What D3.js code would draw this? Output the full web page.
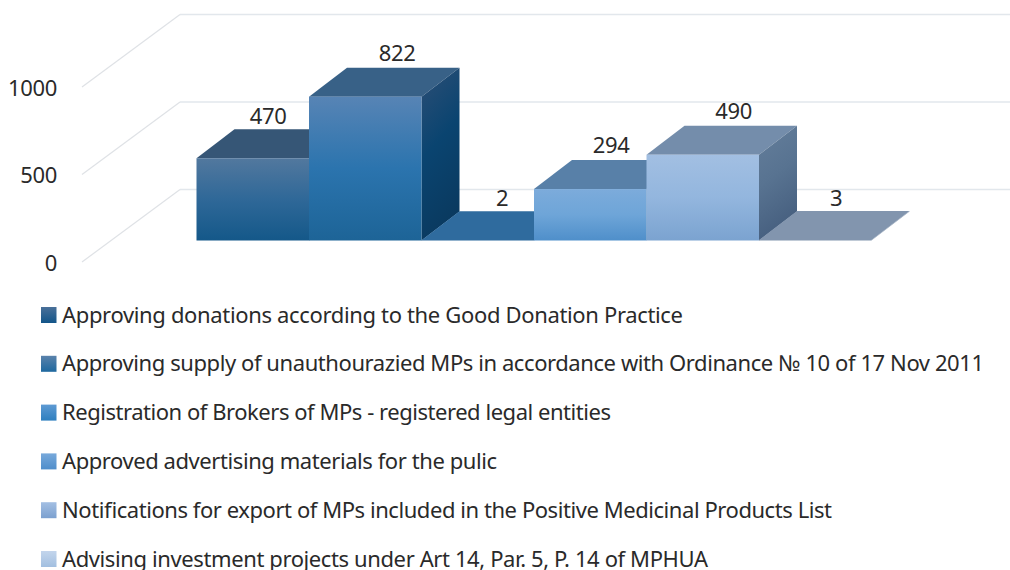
<!DOCTYPE html>
<html><head><meta charset="utf-8">
<script src="https://cdn.jsdelivr.net/npm/d3@7"></script>
<style>
html,body{margin:0;padding:0;background:#fff;overflow:hidden}
text{font-family:"Noto Sans","Open Sans",sans-serif;fill:#2a2a2a}
</style></head><body>
<svg id="c" width="1010" height="570"></svg>
<script>
const categories = [
  "Approving donations according to the Good Donation Practice",
  "Approving supply of unauthourazied MPs in accordance with Ordinance № 10 of 17 Nov 2011",
  "Registration of Brokers of MPs  - registered legal entities",
  "Approved advertising materials for the pulic",
  "Notifications for export of MPs included in the Positive Medicinal Products List",
  "Advising investment projects under Art 14, Par. 5, P. 14 of MPHUA"
];
const barOrder = [0,1,2,3,4,5];
const values = [470, 822, 2, 294, 490, 3];
const yTicks = [0, 500, 1000];
const frontTop = ["#52789e","#5784b5","#2f6b9e","#7cabdb","#a2bfe2","#8295ae"];
const frontMid = ["#2f6898","#2b74ae","#2f6b9e","#6ea5d8","#93b6de","#8295ae"];
const frontBot = ["#145889","#1d6497","#2f6b9e","#4f8fca","#7ba3d0","#8295ae"];
const topCol = ["#365676","#386187","#2f6b9e","#5880a8","#748dab","#8295ae"];
const sideTop = ["#2d4f76","#2d4f76","#2f6b9e","#5880a8","#647e9b","#8295ae"];
const sideMid = ["#0a4470","#0a4470","#2f6b9e","#527aa3","#587391","#8295ae"];
const sideBot = ["#0b3a60","#0a3a60","#2f6b9e","#4a6f98","#465f7f","#8295ae"];
const swatchTop = ["#4a7099","#5a82ab","#5e9ad3","#78a9db","#a3bfe3","#c3d5ec"];
const swatchBot = ["#135589","#1e689f","#2e7fbf","#4f8ecb","#7ba0cf","#a2bfe0"];
const labelNudge = [-3.5, 13, 5.5, 2, 12, 2];
const labelLift = [5, 7, 5, 7, 7, 5];
const legendWidths = [621, 922, 549, 435, 770, 646];

const svg = d3.select("#c");
const defs = svg.append("defs");
const depthX = 38, depthY = 29;
const gridDX = 98, gridDY = 72.5;
const plotH = 175;
const x = d3.scaleBand().domain(barOrder).range([196.5, 871.5]).padding(0);
const yAxisScale = d3.scaleLinear().domain([0,1000]).range([262, 262-plotH]);
const h = d3.scaleLinear().domain([0,1000]).range([0, plotH]);
const baseY = 240.5;
const ls = "-0.33px";

// grid
const grid = svg.append("g");
yTicks.forEach(t=>{
  const y0 = yAxisScale(t);
  grid.append("line").attr("x1",82).attr("y1",y0).attr("x2",82+gridDX).attr("y2",y0-gridDY)
    .attr("stroke","#dfe2e6").attr("stroke-width",1.2);
  grid.append("line").attr("x1",82+gridDX).attr("y1",y0-gridDY).attr("x2",1010).attr("y2",y0-gridDY)
    .attr("stroke","#e2e7ec").attr("stroke-width",1.7);
});

// y axis
const ax = svg.append("g").attr("transform","translate(57,1)")
  .call(d3.axisLeft(yAxisScale).tickValues(yTicks).tickSize(0).tickPadding(0).tickFormat(d3.format("d")));
ax.select(".domain").remove();
ax.selectAll("text").style("font-size","22px").style("letter-spacing",ls).style("font-family",'"Noto Sans"').style("fill","#2a2a2a");

function grad(id,stops,x2){
  const g = defs.append("linearGradient").attr("id",id).attr("x1",0).attr("y1",0).attr("x2",x2||0).attr("y2",1);
  stops.forEach((c,k)=>g.append("stop").attr("offset",k/(stops.length-1)).attr("stop-color",c));
}
const line = d3.line();
barOrder.forEach(i=>{
  grad("f"+i,[frontTop[i],frontMid[i],frontBot[i]]);
  grad("s"+i,[sideTop[i],sideMid[i],sideBot[i]],.25);
  grad("l"+i,[swatchTop[i],swatchBot[i]]);
  const x0=x(i), x1=x0+x.bandwidth(), yT=baseY-h(values[i]);
  const g=svg.append("g");
  g.append("path").attr("d",line([[x0,yT],[x0+depthX,yT-depthY],[x1+depthX,yT-depthY],[x1,yT]])+"Z").attr("fill",topCol[i]);
  g.append("path").attr("d",line([[x1,yT],[x1+depthX,yT-depthY],[x1+depthX,baseY-depthY],[x1,baseY]])+"Z").attr("fill",`url(#s${i})`);
  g.append("rect").attr("x",x0).attr("y",yT).attr("width",x.bandwidth()).attr("height",baseY-yT).attr("fill",`url(#f${i})`);
});
// labels above everything
barOrder.forEach(i=>{
  const yT=baseY-h(values[i]);
  svg.append("text").attr("x",x(i)+x.bandwidth()/2+depthX/2+labelNudge[i]).attr("y",yT-depthY-labelLift[i])
    .attr("text-anchor","middle").style("font-size","22px").style("letter-spacing",ls).text(values[i]);
});
// legend
const legendY = d3.scalePoint().domain(barOrder).range([315, 559]);
barOrder.forEach(i=>{
  const y=legendY(i);
  svg.append("rect").attr("x",41).attr("y",y-8).attr("width",15.5).attr("height",16).attr("fill",`url(#l${i})`);
  svg.append("text").attr("x",62).attr("y",y+7.5).style("font-size","22px")
    .attr("textLength",legendWidths[i]).attr("lengthAdjust","spacing").text(categories[i]);
});
</script></body></html>
